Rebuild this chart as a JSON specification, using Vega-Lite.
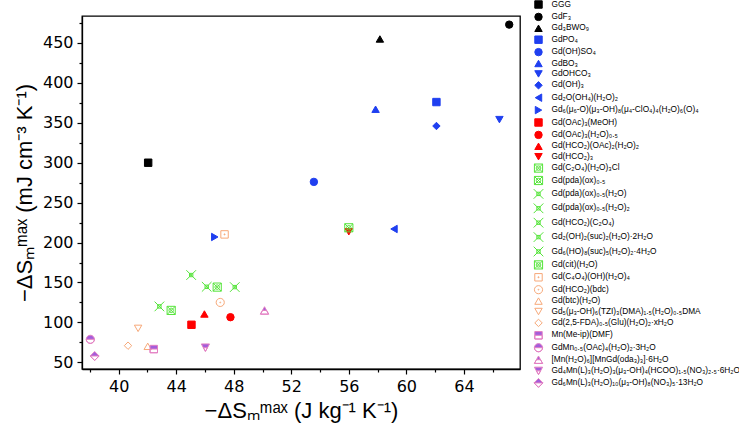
{
  "$schema": "https://vega.github.io/schema/vega-lite/v6.json",
  "width": 438,
  "height": 353,
  "autosize": {"type": "none"},
  "padding": {"left": 82, "top": 16, "right": 219, "bottom": 76},
  "background": "white",
  "config": {
    "font": "Liberation Sans",
    "view": {"stroke": "black", "strokeWidth": 1.3},
    "axis": {
      "grid": false,
      "domainColor": "black", "domainWidth": 1.3,
      "tickColor": "black", "tickWidth": 1.2, "tickSize": 5,
      "labelColor": "black", "labelFont": "DejaVu Sans", "labelFontSize": 16, "labelPadding": 4,
      "titleColor": "black", "titleFont": "Liberation Sans", "titleFontSize": 22, "titleFontWeight": "normal"
    },
    "legend": {
      "orient": "none", "legendX": 452, "legendY": -16, "padding": 0,
      "rowPadding": -0.6, "labelFont": "Liberation Sans", "labelFontSize": 8.3, "labelColor": "black",
      "labelOffset": 8.5, "symbolSize": 55, "symbolStrokeWidth": 1, "labelLimit": 400,
      "symbolLimit": 60, "columns": 1, "direction": "vertical"
    }
  },
  "data": {"values": [
    {"name": "GGG", "x": 42.05, "y": 300},
    {"name": "GdF₃", "x": 67.15, "y": 473},
    {"name": "Gd₃BWO₉", "x": 58.16, "y": 455},
    {"name": "GdPO₄", "x": 62.09, "y": 376},
    {"name": "Gd(OH)SO₄", "x": 53.57, "y": 276},
    {"name": "GdBO₃", "x": 57.86, "y": 367},
    {"name": "GdOHCO₃", "x": 66.47, "y": 354},
    {"name": "Gd(OH)₃", "x": 62.09, "y": 346},
    {"name": "Gd₂O(OH₄)(H₂O)₂", "x": 59.14, "y": 217},
    {"name": "Gd₆(μ₆-O)(μ₃-OH)₈(μ₄-ClO₄)₄(H₂O)₆(O)₄", "x": 46.68, "y": 207},
    {"name": "Gd(OAc)₃(MeOH)", "x": 45.06, "y": 97},
    {"name": "Gd(OAc)₃(H₂O)₀.₅", "x": 47.77, "y": 106.5},
    {"name": "Gd(HCO₂)(OAc)₂(H₂O)₂", "x": 45.96, "y": 110.5},
    {"name": "Gd(HCO₂)₃", "x": 56.0, "y": 213.5},
    {"name": "Gd(C₂O₄)(H₂O)₃Cl", "x": 56.0, "y": 218.5},
    {"name": "Gd(pda)(ox)₀.₅", "x": 43.65, "y": 115},
    {"name": "Gd(pda)(ox)₀.₅(H₂O)", "x": 42.83, "y": 120},
    {"name": "Gd(pda)(ox)₀.₅(H₂O)₂", "x": 45.04, "y": 159.3},
    {"name": "Gd(HCO₂)(C₂O₄)", "x": 48.07, "y": 144.2},
    {"name": "Gd₂(OH)₂(suc)₂(H₂O)·2H₂O", "x": 46.12, "y": 144.6},
    {"name": "Gd(cit)(H₂O)", "x": 46.85, "y": 144.2},
    {"name": "Gd(C₄O₄)(OH)(H₂O)₄", "x": 47.36, "y": 210.2},
    {"name": "Gd(HCO₂)(bdc)", "x": 47.06, "y": 125},
    {"name": "Gd(btc)(H₂O)", "x": 42.02, "y": 70},
    {"name": "Gd₅(μ₃-OH)₆(TZI)₃(DMA)₁.₅(H₂O)₀.₅DMA", "x": 41.35, "y": 92.5},
    {"name": "Gd(2,5-FDA)₀.₅(Glu)(H₂O)₂·xH₂O", "x": 40.65, "y": 70.8},
    {"name": "Mn(Me-ip)(DMF)", "x": 42.44, "y": 66.6},
    {"name": "GdMn₀.₅(OAc)₄(H₂O)₂·3H₂O", "x": 38.03, "y": 78.8},
    {"name": "[Mn(H₂O)₆][MnGd(oda₃)₃]·6H₂O", "x": 50.14, "y": 114.5},
    {"name": "Gd₄Mn(L)₃(H₂O)₃(μ₃-OH)₄(HCOO)₁.₅(NO₃)₂.₅·6H₂O", "x": 46.03, "y": 68.8},
    {"name": "Gd₆Mn(L)₃(H₂O)₁₀(μ₃-OH)₈(NO₃)₅·13H₂O", "x": 38.33, "y": 57.9}
  ]},
  "resolve": {"axis": {"x": "independent", "y": "independent"}},
  "layer": [
    {
      "mark": {"type": "point", "size": 55, "strokeWidth": 1, "opacity": 1},
      "encoding": {
        "x": {"field": "x", "type": "quantitative",
          "scale": {"domain": [37.45, 67.9], "nice": false, "zero": false},
          "axis": {"orient": "bottom", "values": [40, 44, 48, 52, 56, 60, 64], "title": "−ΔSₘᵐᵃˣ (J kg⁻¹ K⁻¹)", "titlePadding": 6}},
        "y": {"field": "y", "type": "quantitative",
          "scale": {"domain": [41.6, 483.8], "nice": false, "zero": false},
          "axis": {"orient": "left", "values": [50, 100, 150, 200, 250, 300, 350, 400, 450], "title": "−ΔSₘᵐᵃˣ (mJ cm⁻³ K⁻¹)", "titlePadding": 6}},
        "shape": {"field": "name", "type": "nominal", "legend": {"title": null},
          "scale": {
            "domain": ["GGG", "GdF₃", "Gd₃BWO₉", "GdPO₄", "Gd(OH)SO₄", "GdBO₃", "GdOHCO₃", "Gd(OH)₃", "Gd₂O(OH₄)(H₂O)₂", "Gd₆(μ₆-O)(μ₃-OH)₈(μ₄-ClO₄)₄(H₂O)₆(O)₄", "Gd(OAc)₃(MeOH)", "Gd(OAc)₃(H₂O)₀.₅", "Gd(HCO₂)(OAc)₂(H₂O)₂", "Gd(HCO₂)₃", "Gd(C₂O₄)(H₂O)₃Cl", "Gd(pda)(ox)₀.₅", "Gd(pda)(ox)₀.₅(H₂O)", "Gd(pda)(ox)₀.₅(H₂O)₂", "Gd(HCO₂)(C₂O₄)", "Gd₂(OH)₂(suc)₂(H₂O)·2H₂O", "Gd₆(HO)₈(suc)₅(H₂O)₂·4H₂O", "Gd(cit)(H₂O)", "Gd(C₄O₄)(OH)(H₂O)₄", "Gd(HCO₂)(bdc)", "Gd(btc)(H₂O)", "Gd₅(μ₃-OH)₆(TZI)₃(DMA)₁.₅(H₂O)₀.₅DMA", "Gd(2,5-FDA)₀.₅(Glu)(H₂O)₂·xH₂O", "Mn(Me-ip)(DMF)", "GdMn₀.₅(OAc)₄(H₂O)₂·3H₂O", "[Mn(H₂O)₆][MnGd(oda₃)₃]·6H₂O", "Gd₄Mn(L)₃(H₂O)₃(μ₃-OH)₄(HCOO)₁.₅(NO₃)₂.₅·6H₂O", "Gd₆Mn(L)₃(H₂O)₁₀(μ₃-OH)₈(NO₃)₅·13H₂O"],
            "range": ["square", "circle", "triangle-up", "square", "circle", "triangle-up", "triangle-down", "diamond", "triangle-left", "triangle-right", "square", "circle", "triangle-up", "triangle-down",
              "M-1.1,-1.1L1.1,-1.1L1.1,1.1L-1.1,1.1ZM-1.1,-1.1L1.1,1.1M1.1,-1.1L-1.1,1.1M0.6,0A0.6,0.6,0,1,1,-0.6,0A0.6,0.6,0,1,1,0.6,0",
              "M-1.1,-1.1L1.1,-1.1L1.1,1.1L-1.1,1.1ZM-1.1,-1.1L1.1,1.1M1.1,-1.1L-1.1,1.1M0.6,0A0.6,0.6,0,1,1,-0.6,0A0.6,0.6,0,1,1,0.6,0",
              "M-1.3,-1.3L1.3,1.3M1.3,-1.3L-1.3,1.3M-0.45,-0.45L0.45,-0.45L0.45,0.45L-0.45,0.45Z",
              "M-1.3,-1.3L1.3,1.3M1.3,-1.3L-1.3,1.3M-0.45,-0.45L0.45,-0.45L0.45,0.45L-0.45,0.45Z",
              "M-1.3,-1.3L1.3,1.3M1.3,-1.3L-1.3,1.3M-0.45,-0.45L0.45,-0.45L0.45,0.45L-0.45,0.45Z",
              "M-1.3,-1.3L1.3,1.3M1.3,-1.3L-1.3,1.3M-0.45,-0.45L0.45,-0.45L0.45,0.45L-0.45,0.45Z",
              "M-1.3,-1.3L1.3,1.3M1.3,-1.3L-1.3,1.3M-0.45,-0.45L0.45,-0.45L0.45,0.45L-0.45,0.45Z",
              "M-1.1,-1.1L1.1,-1.1L1.1,1.1L-1.1,1.1ZM-1.1,-1.1L1.1,1.1M1.1,-1.1L-1.1,1.1M0.6,0A0.6,0.6,0,1,1,-0.6,0A0.6,0.6,0,1,1,0.6,0",
              "M-1,-1L1,-1L1,1L-1,1ZM-0.12,-0.12L0.12,-0.12L0.12,0.12L-0.12,0.12Z",
              "M1.1,0A1.1,1.1,0,1,1,-1.1,0A1.1,1.1,0,1,1,1.1,0ZM0.12,0A0.12,0.12,0,1,1,-0.12,0A0.12,0.12,0,1,1,0.12,0Z",
              "triangle-up", "triangle-down", "diamond",
              "M-1,-1L1,-1L1,0L-1,0ZM-1,0L-1,1L1,1L1,0L1,1L-1,1Z",
              "M-1.1,0A1.1,1.1,0,0,1,1.1,0ZM-1.1,0A1.1,1.1,0,0,0,1.1,0A1.1,1.1,0,0,1,-1.1,0Z",
              "M0,-1.1L0.55,-0.1L-0.55,-0.1ZM-0.55,-0.1L-1.1,0.9L1.1,0.9L0.55,-0.1L1.1,0.9L-1.1,0.9Z",
              "M-1.1,-0.9L1.1,-0.9L0.55,0.1L-0.55,0.1ZM-0.55,0.1L0,1.1L0.55,0.1L0,1.1Z",
              "M-1.2,0L0,-1.2L1.2,0ZM-1.2,0L0,1.2L1.2,0L0,1.2Z"]
          }},
        "fill": {"field": "name", "type": "nominal", "legend": {"title": null},
          "scale": {
            "domain": ["GGG", "GdF₃", "Gd₃BWO₉", "GdPO₄", "Gd(OH)SO₄", "GdBO₃", "GdOHCO₃", "Gd(OH)₃", "Gd₂O(OH₄)(H₂O)₂", "Gd₆(μ₆-O)(μ₃-OH)₈(μ₄-ClO₄)₄(H₂O)₆(O)₄", "Gd(OAc)₃(MeOH)", "Gd(OAc)₃(H₂O)₀.₅", "Gd(HCO₂)(OAc)₂(H₂O)₂", "Gd(HCO₂)₃", "Gd(C₂O₄)(H₂O)₃Cl", "Gd(pda)(ox)₀.₅", "Gd(pda)(ox)₀.₅(H₂O)", "Gd(pda)(ox)₀.₅(H₂O)₂", "Gd(HCO₂)(C₂O₄)", "Gd₂(OH)₂(suc)₂(H₂O)·2H₂O", "Gd₆(HO)₈(suc)₅(H₂O)₂·4H₂O", "Gd(cit)(H₂O)", "Gd(C₄O₄)(OH)(H₂O)₄", "Gd(HCO₂)(bdc)", "Gd(btc)(H₂O)", "Gd₅(μ₃-OH)₆(TZI)₃(DMA)₁.₅(H₂O)₀.₅DMA", "Gd(2,5-FDA)₀.₅(Glu)(H₂O)₂·xH₂O", "Mn(Me-ip)(DMF)", "GdMn₀.₅(OAc)₄(H₂O)₂·3H₂O", "[Mn(H₂O)₆][MnGd(oda₃)₃]·6H₂O", "Gd₄Mn(L)₃(H₂O)₃(μ₃-OH)₄(HCOO)₁.₅(NO₃)₂.₅·6H₂O", "Gd₆Mn(L)₃(H₂O)₁₀(μ₃-OH)₈(NO₃)₅·13H₂O"],
            "range": ["#000000", "#000000", "#000000", "#1f3ff0", "#1f3ff0", "#1f3ff0", "#1f3ff0", "#1f3ff0", "#1f3ff0", "#1f3ff0", "#ff0000", "#ff0000", "#ff0000", "#ff0000",
              "transparent", "transparent", "transparent", "transparent", "transparent", "transparent", "transparent", "transparent",
              "transparent", "transparent", "transparent", "transparent", "transparent",
              "#a35ddb", "#a35ddb", "#a35ddb", "#a35ddb", "#a35ddb"]
          }},
        "stroke": {"field": "name", "type": "nominal", "legend": {"title": null},
          "scale": {
            "domain": ["GGG", "GdF₃", "Gd₃BWO₉", "GdPO₄", "Gd(OH)SO₄", "GdBO₃", "GdOHCO₃", "Gd(OH)₃", "Gd₂O(OH₄)(H₂O)₂", "Gd₆(μ₆-O)(μ₃-OH)₈(μ₄-ClO₄)₄(H₂O)₆(O)₄", "Gd(OAc)₃(MeOH)", "Gd(OAc)₃(H₂O)₀.₅", "Gd(HCO₂)(OAc)₂(H₂O)₂", "Gd(HCO₂)₃", "Gd(C₂O₄)(H₂O)₃Cl", "Gd(pda)(ox)₀.₅", "Gd(pda)(ox)₀.₅(H₂O)", "Gd(pda)(ox)₀.₅(H₂O)₂", "Gd(HCO₂)(C₂O₄)", "Gd₂(OH)₂(suc)₂(H₂O)·2H₂O", "Gd₆(HO)₈(suc)₅(H₂O)₂·4H₂O", "Gd(cit)(H₂O)", "Gd(C₄O₄)(OH)(H₂O)₄", "Gd(HCO₂)(bdc)", "Gd(btc)(H₂O)", "Gd₅(μ₃-OH)₆(TZI)₃(DMA)₁.₅(H₂O)₀.₅DMA", "Gd(2,5-FDA)₀.₅(Glu)(H₂O)₂·xH₂O", "Mn(Me-ip)(DMF)", "GdMn₀.₅(OAc)₄(H₂O)₂·3H₂O", "[Mn(H₂O)₆][MnGd(oda₃)₃]·6H₂O", "Gd₄Mn(L)₃(H₂O)₃(μ₃-OH)₄(HCOO)₁.₅(NO₃)₂.₅·6H₂O", "Gd₆Mn(L)₃(H₂O)₁₀(μ₃-OH)₈(NO₃)₅·13H₂O"],
            "range": ["#000000", "#000000", "#000000", "#1f3ff0", "#1f3ff0", "#1f3ff0", "#1f3ff0", "#1f3ff0", "#1f3ff0", "#1f3ff0", "#ff0000", "#ff0000", "#ff0000", "#ff0000",
              "#55e43a", "#55e43a", "#55e43a", "#55e43a", "#55e43a", "#55e43a", "#55e43a", "#55e43a",
              "#f7a878", "#f7a878", "#f7a878", "#f7a878", "#f7a878",
              "#e37fc2", "#e37fc2", "#e37fc2", "#e37fc2", "#e37fc2"]
          }}
      }
    },
    {
      "mark": {"type": "point", "opacity": 0},
      "encoding": {
        "x": {"field": "x", "type": "quantitative",
          "scale": {"domain": [37.45, 67.9], "nice": false, "zero": false},
          "axis": {"orient": "bottom", "values": [38, 42, 46, 50, 54, 58, 62, 66], "labels": false, "domain": false, "tickSize": 3, "title": null}},
        "y": {"field": "y", "type": "quantitative",
          "scale": {"domain": [41.6, 483.8], "nice": false, "zero": false},
          "axis": {"orient": "left", "values": [75, 125, 175, 225, 275, 325, 375, 425, 475], "labels": false, "domain": false, "tickSize": 3, "title": null}}
      }
    }
  ]
}
